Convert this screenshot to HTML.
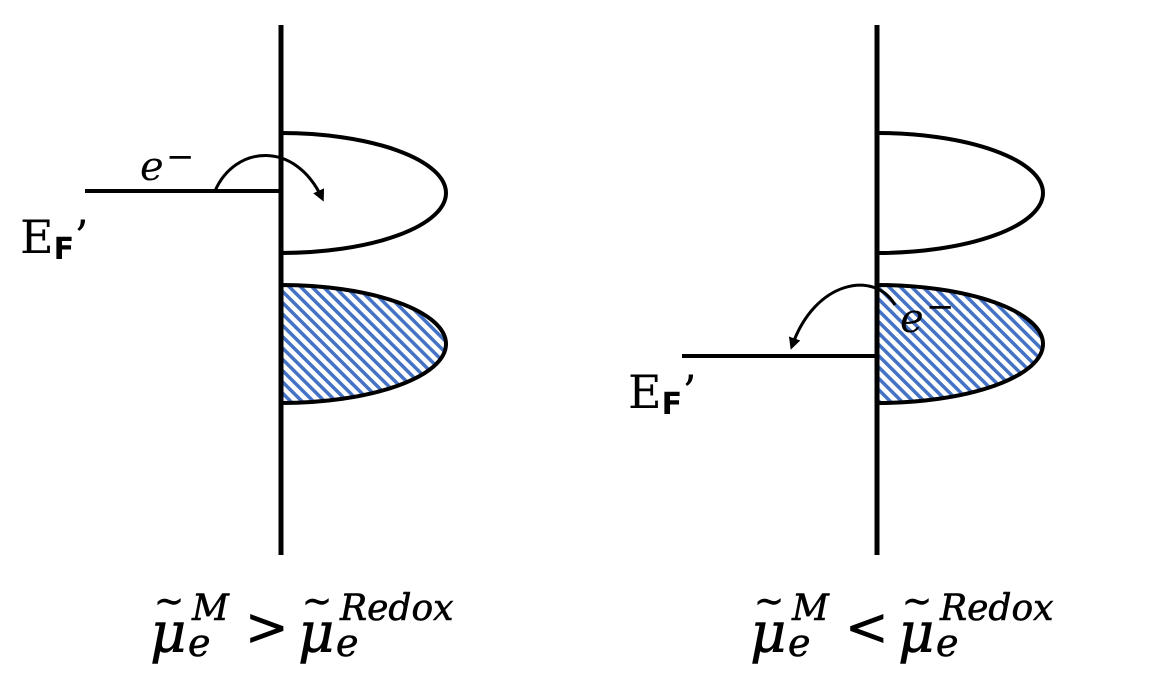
<!DOCTYPE html>
<html><head><meta charset="utf-8"><style>
html,body{margin:0;padding:0;background:#fff;width:1172px;height:696px;overflow:hidden}
svg{display:block}
text{font-family:"DejaVu Serif","Liberation Serif",serif}
</style></head><body>
<svg width="1172" height="696" viewBox="0 0 1172 696">
<defs>
<pattern id="hatch" patternUnits="userSpaceOnUse" width="8" height="8" patternTransform="rotate(-45)">
<rect width="8" height="8" fill="#fff"/><rect x="0" y="0" width="3.5" height="8" fill="#4472C4"/>
</pattern>
<marker id="ah" markerWidth="12" markerHeight="12" refX="8" refY="6" orient="auto" markerUnits="userSpaceOnUse"><path d="M0,0 L12,6 L0,12 Z" fill="#000"/></marker>
</defs>
<g>
<path d="M281,133 A165,60 0 0 1 281,253" fill="#fff" stroke="#000" stroke-width="4"/>
<path d="M281,285 A165,59 0 0 1 281,403 Z" fill="url(#hatch)" stroke="#000" stroke-width="4"/>
<line x1="281" y1="25" x2="281" y2="555" stroke="#000" stroke-width="5"/>
<line x1="85" y1="191" x2="281" y2="191" stroke="#000" stroke-width="4"/>
<path d="M215,191 C235,145 295,140 322,198" fill="none" stroke="#000" stroke-width="3" marker-end="url(#ah)"/>
<text x="140" y="180" font-size="40" font-style="italic">e</text>
<text x="166" y="168" font-size="34">−</text>
<text x="20" y="253" font-size="46" font-family="Liberation Serif">E<tspan font-size="30" dy="6" font-weight="bold" font-family="DejaVu Sans">F</tspan><tspan dy="-6">’</tspan></text>
<g font-style="italic" stroke="#000" stroke-width="0.6">
<text x="150" y="652" font-size="56">μ</text>
<text x="154" y="613" font-size="36" font-style="normal">~</text>
<text x="188" y="656" font-size="38">e</text>
<text x="192" y="620" font-size="36">M</text>
<text x="245" y="645" font-size="52" font-style="normal">&gt;</text>
<text x="298" y="652" font-size="56">μ</text>
<text x="302" y="613" font-size="36" font-style="normal">~</text>
<text x="336" y="656" font-size="38">e</text>
<text x="340" y="620" font-size="36">Redox</text>
</g>
</g>
<g>
<path d="M877,133 A166,60 0 0 1 877,253" fill="#fff" stroke="#000" stroke-width="4"/>
<path d="M877,285 A166,59 0 0 1 877,403 Z" fill="url(#hatch)" stroke="#000" stroke-width="4"/>
<line x1="877" y1="25" x2="877" y2="555" stroke="#000" stroke-width="5"/>
<line x1="682" y1="356" x2="877" y2="356" stroke="#000" stroke-width="4"/>
<path d="M895,305 C875,270 815,280 792,346" fill="none" stroke="#000" stroke-width="3" marker-end="url(#ah)"/>
<text x="900" y="332" font-size="40" font-style="italic">e</text>
<text x="926" y="318" font-size="34">−</text>
<text x="628" y="408" font-size="46" font-family="Liberation Serif">E<tspan font-size="30" dy="6" font-weight="bold" font-family="DejaVu Sans">F</tspan><tspan dy="-6">’</tspan></text>
<g font-style="italic" stroke="#000" stroke-width="0.6">
<text x="750" y="652" font-size="56">μ</text>
<text x="754" y="613" font-size="36" font-style="normal">~</text>
<text x="788" y="656" font-size="38">e</text>
<text x="792" y="620" font-size="36">M</text>
<text x="845" y="645" font-size="52" font-style="normal">&lt;</text>
<text x="898" y="652" font-size="56">μ</text>
<text x="902" y="613" font-size="36" font-style="normal">~</text>
<text x="936" y="656" font-size="38">e</text>
<text x="940" y="620" font-size="36">Redox</text>
</g>
</g>
</svg>
</body></html>
